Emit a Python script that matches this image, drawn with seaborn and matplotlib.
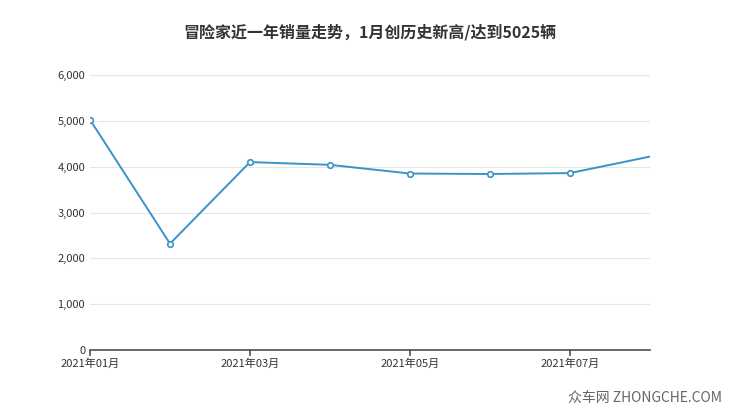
import matplotlib
matplotlib.use("Agg")
import matplotlib.pyplot as plt
import seaborn as sns
import pandas as pd
from matplotlib.ticker import FuncFormatter

months = ["2021-01", "2021-02", "2021-03", "2021-04", "2021-05", "2021-06", "2021-07", "2021-08"]
sales = [5025, 2320, 4100, 4040, 3850, 3840, 3860, 4220]
tick_labels = ["2021年01月", "2021年03月", "2021年05月", "2021年07月"]

df = pd.DataFrame({"idx": range(len(months)), "sales": sales})

sns.set_theme(style="white")
plt.rcParams['font.family'] = ['Noto Sans CJK SC', 'DejaVu Sans']

fig = plt.figure(figsize=(7.4, 4.17), dpi=100)
ax = fig.add_axes([90 / 740, 1 - 350 / 417, 560 / 740, 275 / 417])

# last point sits on the edge and has no marker in the original
sns.lineplot(data=df, x="idx", y="sales", ax=ax, color="#3a93c8", linewidth=1.4,
             marker="o", markersize=4, markerfacecolor="white",
             markeredgecolor="#3a93c8", markeredgewidth=1.2,
             markevery=list(range(len(months) - 1)))

ax.set_xlim(0, len(months) - 1)
ax.set_ylim(0, 6000)
ax.set_yticks(range(0, 6001, 1000))
ax.yaxis.set_major_formatter(FuncFormatter(lambda v, p: f"{int(v):,}"))
ax.set_xticks([0, 2, 4, 6])
ax.set_xticklabels(tick_labels)
ax.grid(axis="y", color="#e6e6e6", linewidth=0.8)
ax.set_xlabel("")
ax.set_ylabel("")
for s in ["top", "right", "left"]:
    ax.spines[s].set_visible(False)
ax.spines["bottom"].set_color("#555555")
ax.tick_params(axis="x", length=4, color="#555555", labelsize=8, labelcolor="#333333", pad=2, bottom=True)
ax.tick_params(axis="y", length=0, labelsize=8, labelcolor="#333333")

fig.text(0.5, 1 - 32 / 417, "冒险家近一年销量走势，1月创历史新高/达到5025辆",
         ha="center", va="center", fontsize=11.5, fontweight="bold", color="#333333")
fig.text(0.975, 1 - 398 / 417, "众车网 ZHONGCHE.COM", ha="right", va="center",
         fontsize=10, color="#666666")

fig.savefig("out.png", dpi=100)
